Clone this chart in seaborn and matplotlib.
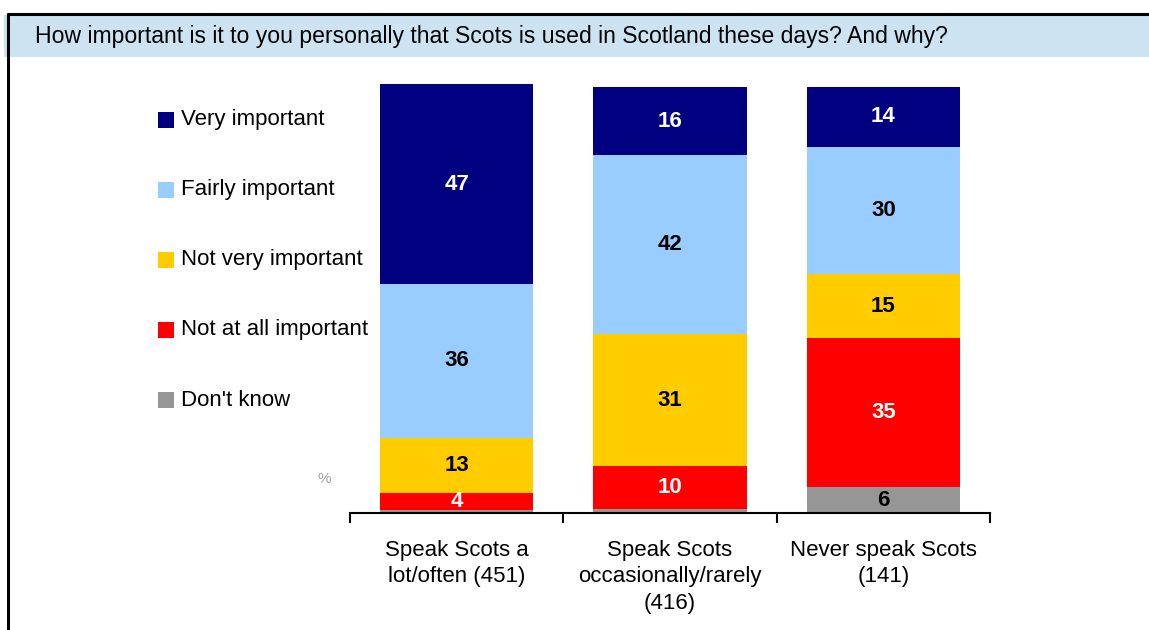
import matplotlib
matplotlib.use("Agg")
import matplotlib.pyplot as plt
from matplotlib.patches import Rectangle
import seaborn as sns
import pandas as pd
import numpy as np

# Survey groups and response shares (%)
groups = ["Speak Scots a\nlot/often (451)",
          "Speak Scots\noccasionally/rarely\n(416)",
          "Never speak Scots\n(141)"]
responses = ["Very important", "Fairly important", "Not very important",
             "Not at all important", "Don't know"]
very_important = [47, 16, 14]
fairly_important = [36, 42, 30]
not_very_important = [13, 31, 15]
not_at_all_important = [4, 10, 35]
dont_know = [0.7, 1, 6]

colors = ["#000080", "#99CCFF", "#FFCC00", "#FF0000", "#969696"]
label_colors = ["white", "black", "black", "white", "black"]
min_labelled = 2  # slivers below this share are left unlabelled

title = "How important is it to you personally that Scots is used in Scotland these days? And why?"

sns.set_theme(style="white")
plt.rcParams["font.family"] = ["Liberation Sans", "DejaVu Sans"]

df = pd.DataFrame({
    "group": groups,
    responses[0]: very_important,
    responses[1]: fairly_important,
    responses[2]: not_very_important,
    responses[3]: not_at_all_important,
    responses[4]: dont_know,
})

fig = plt.figure(figsize=(11.49, 6.30), dpi=100)

# Frame and title band
W, H = 1149, 630
def fx(px):
    return px / W
def fy(py):
    return 1 - py / H

fig.patches.append(Rectangle((fx(4), fy(57)), 1.2, fy(15) - fy(57),
                             transform=fig.transFigure, facecolor="#CCE4F1",
                             edgecolor="none", zorder=0))
fig.add_artist(plt.Line2D([fx(8), fx(8)], [fy(14), 0], transform=fig.transFigure,
                          color="black", lw=2.2))
fig.add_artist(plt.Line2D([fx(8), 1.0], [fy(14), fy(14)], transform=fig.transFigure,
                          color="black", lw=2.2))
fig.text(fx(35), fy(36), title, fontsize=16.6, ha="left", va="center", color="black")

ymax = 101
ax_left, ax_right = 350, 990
ax_bottom_px = 513
ax_top_px = ax_bottom_px - 426 * ymax / 100
ax = fig.add_axes([fx(ax_left), fy(ax_bottom_px), (ax_right - ax_left) / W,
                   (ax_bottom_px - ax_top_px) / H])

# Cumulative stack from the bottom: Don't know, Not at all, Not very, Fairly, Very
x = np.arange(len(groups))
stack_order = list(range(len(responses)))[::-1]
bottoms = {}
tops = {}
running = np.zeros(len(groups))
for i in stack_order:
    vals = df[responses[i]].to_numpy(dtype=float)
    bottoms[i] = running.copy()
    running = running + vals
    tops[i] = running.copy()

# Draw tallest cumulative bars first so lower segments sit on top of them
for i in range(len(responses)):
    sns.barplot(x=x, y=tops[i], color=colors[i], ax=ax, width=0.72,
                saturation=1, native_scale=True, edgecolor="none", linewidth=0)

for i in range(len(responses)):
    vals = df[responses[i]].to_numpy(dtype=float)
    for xi, (b, v) in enumerate(zip(bottoms[i], vals)):
        if v < min_labelled:
            continue
        ax.text(xi, b + v / 2, f"{v:.0f}", ha="center", va="center",
                fontsize=16, fontweight="bold", color=label_colors[i],
                zorder=20)

ax.set_xlim(-0.5, len(groups) - 0.5)
ax.set_ylim(0, ymax)
for s in ["left", "right", "top"]:
    ax.spines[s].set_visible(False)
ax.spines["bottom"].set_color("black")
ax.spines["bottom"].set_linewidth(1.5)
ax.set_yticks([])
ax.set_xticks([])
ax.set_xticks(np.arange(len(groups) + 1) - 0.5, minor=True)
ax.tick_params(axis="x", which="minor", direction="out", length=7, width=1.5,
               color="black", bottom=True, labelbottom=False)
ax.set_xlabel("")
ax.set_ylabel("")
ax.patch.set_alpha(0)

for xi, g in enumerate(groups):
    ax.text(xi, -6.3, g, ha="center", va="top", fontsize=16, color="black",
            linespacing=1.35, transform=ax.transData)

ax.text(-0.62, 8, "%", ha="center", va="center", fontsize=11, color="#A0A0A0")

# Legend entries drawn as a vertical list on the left
legend_y = [120, 190, 260, 330, 400]
for i, r in enumerate(responses):
    fig.patches.append(Rectangle((fx(158), fy(legend_y[i] + 8)), 16 / W, 16 / H,
                                 transform=fig.transFigure, facecolor=colors[i],
                                 edgecolor="none"))
    fig.text(fx(181), fy(legend_y[i]), r, fontsize=16, ha="left", va="center",
             color="black")

fig.savefig("out.png", dpi=100)
